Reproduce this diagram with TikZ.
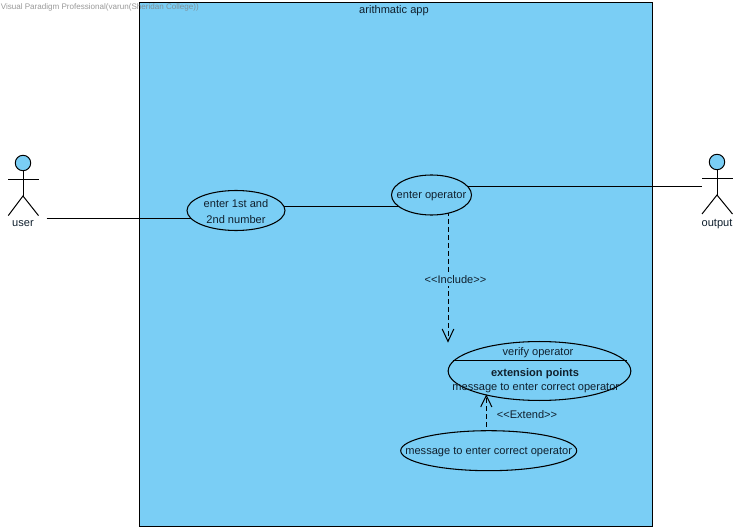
\documentclass[tikz,border=0pt]{standalone}
\usepackage{fontspec}
\setmainfont{Liberation Sans}
\usetikzlibrary{shapes.geometric,arrows.meta}
\definecolor{ucblue}{HTML}{7ACEF5}
\definecolor{uctext}{HTML}{10202E}
\pgfdeclarelayer{back}
\pgfdeclarelayer{mid}
\pgfsetlayers{back,mid,main}
\tikzset{
  uc/.style={draw=black,fill=ucblue,ellipse,line width=0.8pt,inner sep=0pt},
  txt/.style={font=\fontsize{8.3}{10}\selectfont,text=uctext,inner sep=0pt,yshift=-0.8pt},
  limb/.style={draw=black,line width=0.75pt},
  conn/.style={draw=black,line width=0.75pt},
  dep/.style={draw=black,line width=0.75pt,dash pattern=on 3.6pt off 2.4pt},
  openhead/.style={draw=black,line width=0.75pt}
}
\begin{document}
\begin{tikzpicture}[x=0.75pt,y=-0.75pt]
\useasboundingbox (0,0) rectangle (747,531);
\begin{pgfonlayer}{back}
\fill[white] (0,0) rectangle (747,531);
\node[draw=black,fill=ucblue,line width=0.8pt,minimum width=384.4pt,minimum height=392.6pt,inner sep=0pt,anchor=north west] (sys) at (139.3,2.2) {};
\end{pgfonlayer}
\node[txt] (systitle) at (394,10) {arithmatic app};
% actors
\node[circle,draw=black,fill=ucblue,line width=0.75pt,minimum size=11.6pt,inner sep=0pt] (uh) at (23,163) {};
\coordinate (ub) at (23,196);
\node[txt] (ul) at (23,223) {user};
\draw[limb] (uh.south) -- (ub);
\draw[limb] (8.3,179.3) -- (38.5,179.3);
\draw[limb] (8.3,215.6) -- (ub) -- (38.5,215.6);
\node[circle,draw=black,fill=ucblue,line width=0.75pt,minimum size=11.6pt,inner sep=0pt] (oh) at (717,162) {};
\coordinate (ob) at (717,195);
\node[txt] (ol) at (717,223) {output};
\draw[limb] (oh.south) -- (ob);
\draw[limb] (702,178.3) -- (732.5,178.3);
\draw[limb] (702,214) -- (ob) -- (732.5,214);
% use cases
\node[uc,minimum width=73.5pt,minimum height=30pt,label={[txt,align=center,font=\fontsize{8.3}{11.6}\selectfont]center:enter 1st and\\2nd number}] (enter) at (236,210.5) {};
\node[uc,minimum width=60pt,minimum height=30pt,label={[txt]center:enter operator}] (op) at (431.5,195) {};
\node[uc,minimum width=137pt,minimum height=44.2pt] (ver) at (539.5,371) {};
\node[txt] (v1) at (538,351.5) {verify operator};
\node[txt,font=\fontsize{8.3}{10}\selectfont\bfseries] (v2) at (535,372.5) {extension points};
\node[txt] (v3) at (535.8,387.5) {message to enter correct operator};
\node[uc,minimum width=132pt,minimum height=30pt,label={[txt]center:message to enter correct operator}] (msg) at (488.7,450.7) {};
\coordinate (vl) at (452.5,360.7);
\coordinate (vr) at (626.5,360.7);
\draw[conn] (vl) -- (vr);
% connectors
\coordinate (us) at (46.5,219);
\coordinate (os) at (702,187);
\coordinate (ey) at (0,207);
\coordinate (inct) at (448,341.5);
\coordinate (extt) at (486.3,395.5);
\coordinate (il1) at (442.2,329);
\coordinate (il2) at (453.8,329);
\coordinate (el1) at (480.7,407);
\coordinate (el2) at (491.9,407);
\begin{pgfonlayer}{mid}
\draw[conn] (us) -- (us -| enter.center);
\draw[conn] (enter.center |- ey) -- (op.center |- ey);
\draw[conn] (op.center |- os) -- (os);
\draw[dep] (inct |- op.center) -- (inct);
\draw[dep] (extt |- msg.center) -- (extt);
\end{pgfonlayer}
\draw[openhead] (il1) -- (inct) -- (il2);
\draw[openhead] (el1) -- (extt) -- (el2);
\node[txt,fill=ucblue,inner xsep=0pt,inner ysep=2pt] (il) at (455.5,278) {<{}<Include>{}>};
\node[txt] (el) at (527,413) {<{}<Extend>{}>};
\node[font=\fontsize{6.05}{8}\selectfont,text=black!50,opacity=0.8,inner sep=0pt,anchor=west] (wm) at (0.5,7) {Visual Paradigm Professional(varun(Sheridan College))};
\end{tikzpicture}
\end{document}
